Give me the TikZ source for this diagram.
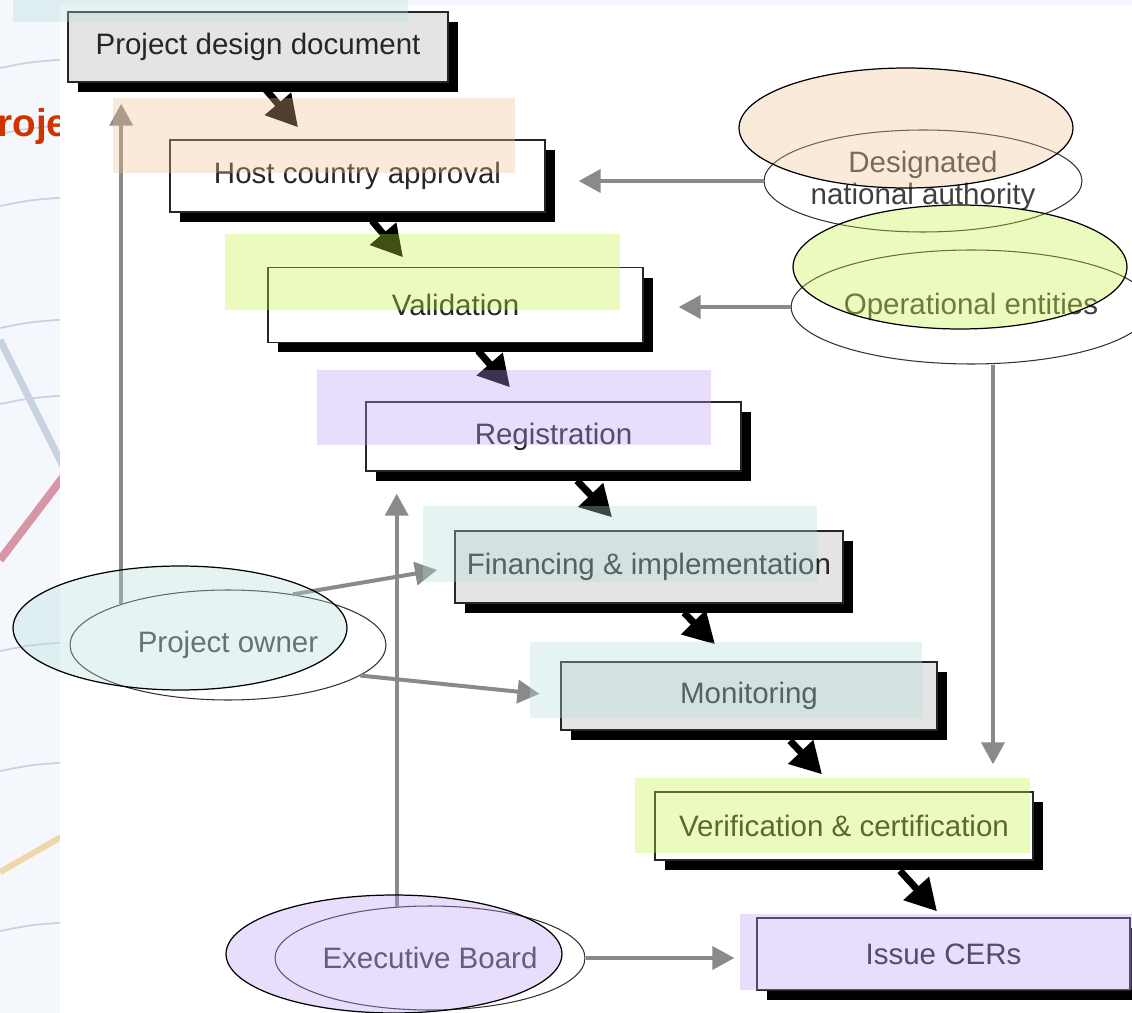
\documentclass[tikz,border=0pt]{standalone}
\usepackage{fontspec}
\setmainfont{Liberation Sans}
\usetikzlibrary{shapes.geometric,arrows.meta,shadows,positioning}

\definecolor{peachov}{RGB}{240,194,145}
\definecolor{greenov}{RGB}{197,245,60}
\definecolor{purpleov}{RGB}{188,152,245}
\definecolor{cyanov}{RGB}{179,221,221}
\definecolor{boxgray}{RGB}{228,228,228}
\definecolor{linkgray}{RGB}{138,138,138}
\definecolor{titlered}{RGB}{208,50,0}
\definecolor{bgblue}{RGB}{244,247,251}
\definecolor{bgstreak}{RGB}{200,210,225}
\definecolor{bgpink}{RGB}{215,150,165}
\definecolor{bgsand}{RGB}{240,212,170}

\tikzstyle{stepbox}=[rectangle,draw=black!85,line width=0.8pt,fill=white,inner sep=0pt,text=black!85,font=\fontsize{16.8}{20}\selectfont,drop shadow={shadow xshift=0.2cm,shadow yshift=-0.2cm,fill=black,opacity=1}]
\tikzstyle{actor}=[ellipse,draw=black!80,line width=0.6pt,fill=white,inner sep=0pt,align=center,text=black!75,font=\fontsize{16.8}{18.5}\selectfont]
\tikzstyle{steparr}=[-{Triangle[length=0.62cm,width=0.66cm]},line width=0.14cm,black]
\tikzstyle{linkarr}=[-{Triangle[length=0.44cm,width=0.46cm]},line width=0.08cm,linkgray]
\tikzstyle{tint}=[fill opacity=0.33]
\tikzstyle{halo}=[draw=black,line width=0.7pt,fill opacity=0.33]

\begin{document}
\begin{tikzpicture}[x={(0.02cm,0)},y={(0,-0.02cm)}]
\useasboundingbox (0,0) rectangle (1132,1013);
\clip (0,0) rectangle (1132,1013);

% slide background on the left
\fill[bgblue] (0,0) rectangle (1132,1013);
\foreach \yy in {62,128,200,322,398,645,765,925}
  \draw[bgstreak,line width=1pt] (0,\yy+6) .. controls (30,\yy) .. (70,\yy-3);
\draw[bgstreak,line width=0.14cm] (0,340) -- (70,480);
\draw[bgpink,line width=0.16cm] (0,560) -- (70,468);
\draw[bgsand,line width=0.12cm] (0,872) -- (70,832);
\node[anchor=base west,text=titlered,inner sep=0pt,font=\bfseries\fontsize{22}{24}\selectfont] (title) at (-3,137) {roje};
\fill[white] (60,5) rectangle (1132,1013);

% process steps
\node[stepbox,fill=boxgray,minimum width=7.6cm,minimum height=1.4cm] (pdd) at (258,47) {Project design document};
\node[stepbox,minimum width=7.5cm,minimum height=1.44cm] (hca) at (357.5,176) {Host country approval};
\node[stepbox,minimum width=7.5cm,minimum height=1.5cm] (val) at (455.5,305) {Validation};
\node[stepbox,minimum width=7.5cm,minimum height=1.38cm] (reg) at (553.5,436.5) {Registration};
\node[stepbox,fill=boxgray,minimum width=7.76cm,minimum height=1.44cm] (fin) at (649,567) {Financing \& implementation};
\node[stepbox,fill=boxgray,minimum width=7.52cm,minimum height=1.36cm] (mon) at (749,696) {Monitoring};
\node[stepbox,minimum width=7.56cm,minimum height=1.36cm] (ver) at (844,826) {Verification \& certification};
\node[stepbox,minimum width=7.46cm,minimum height=1.44cm] (cer) at (943.5,954) {Issue CERs};

% actors
\node[actor,minimum width=6.24cm,minimum height=2.04cm] (dna) at (923,181) {Designated\\national authority};
\node[actor,minimum width=6.36cm,minimum height=2.28cm] (oe) at (971,307) {Operational entities};
\node[actor,minimum width=6.32cm,minimum height=2.2cm] (po) at (228,645) {Project owner};
\node[actor,minimum width=6.2cm,minimum height=2.08cm] (eb) at (430,958) {Executive Board};

% step arrows
\draw[steparr] ([xshift=0.14cm,yshift=-0.12cm]pdd.south) -- ([xshift=-1.19cm,yshift=0.24cm]hca.north);
\draw[steparr] ([xshift=0.29cm,yshift=-0.16cm]hca.south) -- ([xshift=-1.05cm,yshift=0.19cm]val.north);
\draw[steparr] ([xshift=0.45cm,yshift=-0.15cm]val.south) -- ([xshift=-0.87cm,yshift=0.28cm]reg.north);
\draw[steparr] ([xshift=0.47cm,yshift=-0.18cm]reg.south) -- ([xshift=-0.74cm,yshift=0.26cm]fin.north);
\draw[steparr] ([xshift=0.7cm,yshift=-0.18cm]fin.south) -- ([xshift=-0.68cm,yshift=0.34cm]mon.north);
\draw[steparr] ([xshift=0.82cm,yshift=-0.2cm]mon.south) -- ([xshift=-0.44cm,yshift=0.34cm]ver.north);
\draw[steparr] ([xshift=1.12cm,yshift=-0.2cm]ver.south) -- ([xshift=-0.13cm,yshift=0.12cm]cer.north);

% actor links
\coordinate (oefoot) at ([xshift=0.44cm]oe.south);
\draw[linkarr,shorten >=0.66cm] (dna.west) -- (dna.west -| hca.east);
\draw[linkarr,shorten >=0.7cm] (oe.west) -- (oe.west -| val.east);
\draw[linkarr,shorten >=0.54cm] (oefoot) -- (oefoot |- ver.north);
\draw[linkarr,shorten >=0.42cm] (po.159) -- (po.159 |- pdd.south);
\draw[linkarr,shorten >=0.35cm] (po.38) -- (fin.west);
\draw[linkarr,shorten >=0.42cm] (po.-13) -- (mon.west);
\draw[linkarr,shorten >=0.44cm] (eb.123) -- (eb.123 |- reg.south);
\draw[linkarr,shorten >=0.44cm] (eb.east) -- (eb.east -| cer.west);

% colour bands
\fill[cyanov,tint] (13,0) rectangle (408,22);
\fill[peachov,tint] (113,98) rectangle (515,173);
\fill[greenov,tint] (225,234) rectangle (620,310);
\fill[purpleov,tint] (317,370) rectangle (711,445);
\fill[cyanov,tint] (423,506) rectangle (817,582);
\fill[cyanov,tint] (530,642) rectangle (922,718);
\fill[greenov,tint] (635,778) rectangle (1030,853);
\fill[purpleov,tint] (740,914) rectangle (1132,990);

% colour halos on the actors
\draw[halo,fill=peachov] (906,128) ellipse [x radius=3.34cm,y radius=1.2cm];
\draw[halo,fill=greenov] (960,267) ellipse [x radius=3.34cm,y radius=1.24cm];
\draw[halo,fill=cyanov] (180,628) ellipse [x radius=3.34cm,y radius=1.24cm];
\draw[halo,fill=purpleov] (394,954) ellipse [x radius=3.36cm,y radius=1.18cm];
\end{tikzpicture}
\end{document}
